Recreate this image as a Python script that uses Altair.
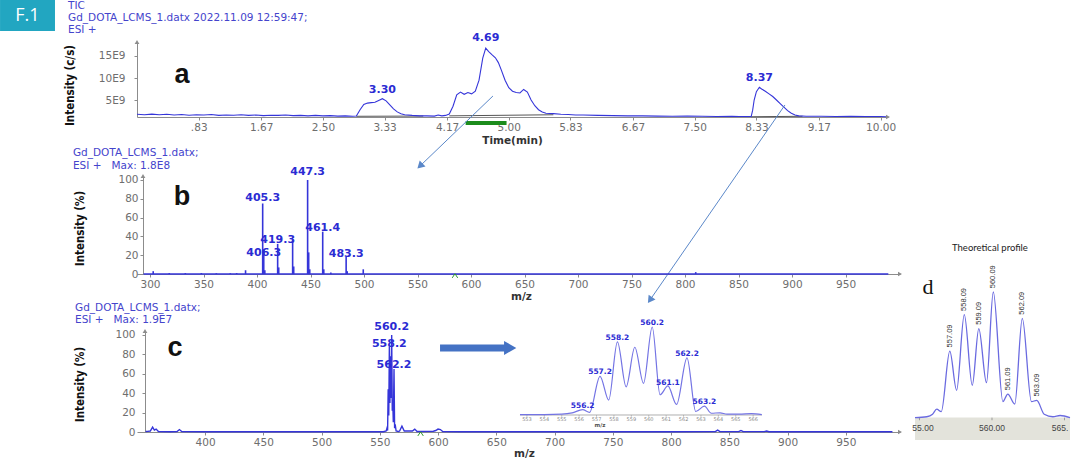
import altair as alt
import pandas as pd

# =================================================================== DATA
# (a) TIC chromatogram - intensity in units of 1E9 c/s
TIC_TIME = [
    0.00, 0.10, 0.20, 0.30, 0.40, 0.50, 0.60, 0.70, 0.80, 0.90,
    1.00, 1.10, 1.20, 1.30, 1.40, 1.50, 1.60, 1.70, 1.80, 1.90,
    2.00, 2.10, 2.20, 2.30, 2.40, 2.50, 2.60, 2.70, 2.80, 2.90,
    2.95, 3.00, 3.05, 3.10, 3.15, 3.20, 3.25, 3.30, 3.35, 3.40,
    3.45, 3.50, 3.55, 3.60, 3.70, 3.80, 3.90, 4.00, 4.05, 4.10,
    4.15, 4.20, 4.25, 4.30, 4.35, 4.40, 4.45, 4.50, 4.55, 4.60,
    4.65, 4.69, 4.73, 4.78, 4.82, 4.86, 4.90, 4.95, 5.00, 5.05,
    5.10, 5.15, 5.20, 5.25, 5.30, 5.35, 5.40, 5.45, 5.50, 5.60,
    5.70, 5.80, 5.90, 6.00, 6.20, 6.40, 6.60, 6.80, 7.00, 7.20,
    7.40, 7.60, 7.80, 8.00, 8.10, 8.20, 8.26, 8.28, 8.30, 8.33,
    8.37, 8.40, 8.45, 8.50, 8.55, 8.60, 8.65, 8.70, 8.75, 8.80,
    8.85, 8.90, 9.00, 9.20, 9.40, 9.60, 9.80, 10.00, 10.08,
]
TIC_INT = [
    1.75, 1.65, 1.80, 1.65, 1.75, 1.60, 1.70, 1.55, 1.65, 1.60,
    1.70, 1.50, 1.60, 1.55, 1.65, 1.50, 1.60, 1.45, 1.55, 1.50,
    1.60, 1.45, 1.50, 1.40, 1.50, 1.40, 1.45, 1.35, 1.40, 1.30,
    1.35, 2.80, 4.00, 4.30, 4.40, 4.50, 4.90, 5.30, 4.80, 3.90,
    3.00, 2.30, 1.90, 1.65, 1.50, 1.40, 1.40, 1.35, 1.60, 1.40,
    1.50, 1.80, 3.60, 6.20, 6.80, 6.30, 6.70, 6.40, 7.00, 9.50,
    14.5, 16.8, 16.0, 15.2, 14.6, 13.5, 11.8, 9.50, 7.80, 7.00,
    6.70, 6.60, 7.40, 6.80, 5.00, 3.70, 2.80, 2.30, 2.00, 1.90,
    1.75, 1.70, 1.60, 1.60, 1.50, 1.45, 1.40, 1.40, 1.35, 1.30,
    1.35, 1.30, 1.25, 1.30, 1.25, 1.25, 1.25, 2.70, 5.00, 6.90,
    7.90, 7.50, 7.00, 6.40, 5.80, 5.00, 4.20, 3.40, 2.60, 2.00,
    1.60, 1.40, 1.30, 1.30, 1.25, 1.30, 1.25, 1.25, 1.20,
]
TIC_BASE_START = [2.95, 4.20, 8.26]
TIC_BASE_END = [3.85, 5.60, 8.95]
TIC_BASE_START_INT = [1.30, 1.40, 1.20]
TIC_BASE_END_INT = [1.35, 1.65, 1.30]
TIC_WINDOW = [4.42, 4.97]
TIC_PEAK_TIME = [3.30, 4.69, 8.37]
TIC_PEAK_TEXT = ["3.30", "4.69", "8.37"]
TIME_TICKS = [0.83, 1.67, 2.50, 3.33, 4.17, 5.00, 5.83, 6.67, 7.50, 8.33, 9.17, 10.00]
TIC_Y_TICKS = [5, 10, 15]

# (b) mass spectrum, % intensity
MSB_MZ = [303.0, 318.0, 333.0, 348.0, 362.0, 375.0, 381.0, 389.3, 405.3, 406.3,
          407.3, 419.3, 420.3, 433.3, 434.3, 447.3, 448.3, 449.3, 461.4, 462.4,
          469.0, 483.3, 484.3, 499.3, 810.0]
MSB_INT = [3, 1, 1, 1, 0.8, 0.8, 1, 4, 75, 26,
           4, 32, 7, 37, 8, 100, 23, 5, 45, 5,
           1.5, 18, 3, 5, 2]
MSB_BASELINE = [294.0, 990.0]
MSB_PEAK_MZ = [405.3, 406.3, 419.3, 447.3, 461.4, 483.3]
MSB_PEAK_TEXT = ["405.3", "406.3", "419.3", "447.3", "461.4", "483.3"]
MSB_TICKS = [300, 350, 400, 450, 500, 550, 600, 650, 700, 750, 800, 850, 900, 950]
PCT_TICKS = [0, 20, 40, 60, 80, 100]

# (c) mass spectrum, % intensity (profile)
MSC_MZ = [349, 351, 353, 355, 356.5, 358, 360, 370, 376, 378,
          380, 400, 450, 500, 540, 553, 555.5, 556.2, 556.7, 557.2,
          557.7, 558.2, 558.7, 559.2, 559.7, 560.2, 560.7, 561.1, 561.6, 562.2,
          562.7, 563.2, 564.0, 566, 567, 569, 571, 578, 580, 582,
          596, 598, 600, 602, 604, 620, 700, 800, 838, 840,
          842, 858, 860, 862, 880, 882, 884, 950, 990]
MSC_INT = [0.5, 0.6, 1, 5, 2, 3, 0.5, 0.3, 0.5, 2.5,
           0.4, 0.3, 0.3, 0.3, 0.3, 0.3, 1, 4, 1.5, 44,
           17, 88, 30, 78, 35, 100, 22, 33, 10, 65,
           4, 8, 1, 0.5, 1, 6, 1, 1, 3, 0.5,
           0.8, 1.5, 3, 2.5, 0.5, 0.3, 0.3, 0.3, 0.4, 2,
           0.4, 0.4, 1.5, 0.4, 0.4, 1, 0.3, 0.3, 0.3]
MSC_PEAK_MZ = [560.2, 558.2, 562.2]
MSC_PEAK_TEXT = ["560.2", "558.2", "562.2"]
MSC_TICKS = [400, 450, 500, 550, 600, 650, 700, 750, 800, 850, 900, 950]

# (c, inset) zoom of the isotope cluster
ZOOM_MZ = [552.6, 554.0, 555.0, 555.6, 556.2, 556.6, 557.2, 557.7, 558.2, 558.7,
           559.2, 559.7, 560.2, 560.65, 561.1, 561.6, 562.2, 562.7, 563.2, 563.6,
           564.1, 564.5, 565.2, 565.9, 566.5]
ZOOM_INT = [0.5, 0.5, 1.0, 2.5, 6, 3, 44, 17, 83, 32,
            77, 36, 100, 23, 33, 12, 65, 4, 10, 2,
            2.5, 1, 1, 1.5, 0.5]
ZOOM_PEAK_MZ = [556.2, 557.2, 558.2, 560.2, 561.1, 562.2, 563.2]
ZOOM_PEAK_TEXT = ["556.2", "557.2", "558.2", "560.2", "561.1", "562.2", "563.2"]
ZOOM_TICKS = [553, 554, 555, 556, 557, 558, 559, 560, 561, 562, 563, 564, 565, 566]

# (d) theoretical isotope profile
THEO_MZ = [554.69, 555.5, 555.9, 556.19, 556.5, 557.09, 557.56, 558.09, 558.64, 559.09,
           559.62, 560.09, 560.75, 561.09, 561.57, 562.09, 562.72, 563.09, 563.6, 564.2,
           564.7, 565.38]
THEO_INT = [0.3, 1.0, 3, 7, 5, 53, 22, 82, 26, 71,
            28, 100, 13, 19, 11, 79, 13, 14, 3, 1.0,
            2, 0.3]
THEO_PEAK_MZ = [557.09, 558.09, 559.09, 560.09, 561.09, 562.09, 563.09]
THEO_PEAK_INT = [53, 82, 71, 100, 19, 79, 14]
THEO_PEAK_TEXT = ["557.09", "558.09", "559.09", "560.09", "561.09", "562.09", "563.09"]
THEO_TICKS = [555, 560, 565]
THEO_TICK_TEXT = ["55.00", "560.00", "565."]   # as printed on the cropped inset image

# text blocks
A_HEADER = ["TIC", "Gd_DOTA_LCMS_1.datx 2022.11.09 12:59:47;", "ESI +"]
B_HEADER = ["Gd_DOTA_LCMS_1.datx;", "ESI +\u00a0\u00a0\u00a0Max: 1.8E8"]
C_HEADER = ["Gd_DOTA_LCMS_1.datx;", "ESI +\u00a0\u00a0\u00a0Max: 1.9E7"]

# ============================================================ STYLE / LAYOUT
FONT = "DejaVu Sans"
NARROW = "Liberation Sans Narrow, DejaVu Sans Condensed, sans-serif"
ARIAL = "Liberation Sans, Arial, sans-serif"
TRACE = "#3535d9"
TITLE_BLUE = "#4444cc"
LABEL_BLUE = "#2b2bd3"
AXIS_GRAY = "#8c8c8c"
LABEL_GRAY = "#6e6e6e"
ARROW_BLUE = "#5b88c9"
HEAD_SIZE = 10.5

A_W, A_H, A_XDOM, A_YDOM = 751, 75, [0, 10.1], [1.14, 18.18]
B_W, B_H, B_XDOM, B_YDOM = 763, 98, [287.85, 1000.9], [0, 104.25]
C_W, C_H, C_XDOM, C_YDOM = 763, 101, [341.6, 996.5], [0, 104.1]
I_XDOM, I_YDOM = [530.59, 574.44], [-19.32, 95.45]
D_W, D_H, D_XDOM, D_YDOM = 155, 398, [554.69, 565.38], [-17.46, 298.41]
D_TICK_LABEL_X = [555.24, 560.0, 564.69]   # label anchors (cropped image)


def lin(dom):
    return alt.Scale(domain=dom, nice=False, zero=False)


def x_axis(values, title, tx, ty, label_expr=None):
    kw = dict(values=values, title=title, titleX=tx, titleY=ty, titleAlign="center",
              titleBaseline="middle", titleFont=FONT, titleFontSize=10.5,
              titleFontWeight="bold", titleColor="#333333", labelFont=FONT,
              labelFontSize=10.5, labelColor=LABEL_GRAY, labelPadding=2,
              labelFlush=False, labelOverlap=False, tickSize=3, tickColor=AXIS_GRAY,
              domainColor=AXIS_GRAY, grid=False)
    if label_expr:
        kw["labelExpr"] = label_expr
    return alt.Axis(**kw)


def y_axis(values, title, tx, ty, offset, pad, label_expr=None):
    kw = dict(values=values, title=title, titleX=tx, titleY=ty, titleAngle=270,
              titleAlign="center", titleBaseline="middle", titleFont=NARROW,
              titleFontSize=11.5, titleFontWeight="bold", titleColor="#111111",
              labelFont=FONT, labelFontSize=10.5, labelColor=LABEL_GRAY,
              labelPadding=pad, labelOverlap=False, tickSize=3, tickColor=AXIS_GRAY,
              domainColor=AXIS_GRAY, grid=False, offset=offset)
    if label_expr:
        kw["labelExpr"] = label_expr
    return alt.Axis(**kw)


def frame(**cols):
    return pd.DataFrame(cols)


X2 = alt.X2("x2:Q")
Y2 = alt.Y2("y2:Q")
ANG = alt.Angle("ang:Q", scale=None)
SHP = alt.Shape("s:N", scale=None)
CARET = "M-1,0.8L0,-0.7L1,0.8"

# ================================================================ PANEL A
XA = alt.X("x:Q", scale=lin(A_XDOM),
           axis=x_axis(TIME_TICKS, "Time(min)", 375, 23,
                       "datum.value < 1 ? '.83' : format(datum.value, '.2f')"))
YA = alt.Y("y:Q", scale=lin(A_YDOM),
           axis=y_axis(TIC_Y_TICKS, "Intensity (c/s)", -67, 43, 0, 9, "datum.value + 'E9'"))

a_layers = [
    alt.Chart(frame(x=TIC_BASE_START, x2=TIC_BASE_END, y=TIC_BASE_START_INT,
                    y2=TIC_BASE_END_INT))
    .mark_rule(color="#555555", strokeWidth=1).encode(x=XA, x2=X2, y=YA, y2=Y2),
    alt.Chart(frame(x=TIC_TIME, y=TIC_INT))
    .mark_line(color=TRACE, strokeWidth=1.1).encode(x=XA, y=YA),
    alt.Chart(frame(x=[TIC_WINDOW[0]], x2=[TIC_WINDOW[1]], y=[-0.22]))
    .mark_rule(color="#1c8c1c", strokeWidth=4).encode(x=XA, x2=X2, y=YA),
    alt.Chart(frame(x=TIC_PEAK_TIME, y=[7.2, 19.0, 10.0], t=TIC_PEAK_TEXT))
    .mark_text(font=FONT, fontSize=11, fontWeight="bold", color=LABEL_BLUE, baseline="middle")
    .encode(x=XA, y=YA, text="t:N"),
    alt.Chart(frame(x=[-0.928] * 3, y=[26.36, 23.63, 20.91], t=A_HEADER))
    .mark_text(align="left", baseline="middle", font=FONT, fontSize=HEAD_SIZE, color=TITLE_BLUE)
    .encode(x=XA, y=YA, text="t:N"),
    alt.Chart(frame(x=[0.605], y=[10.68], t=["a"]))
    .mark_text(font=ARIAL, fontSize=27, fontWeight="bold", color="#111111", baseline="middle")
    .encode(x=XA, y=YA, text="t:N"),
    # connector arrows down to panels b and c
    alt.Chart(frame(x=[4.787, 8.714], y=[5.91, 3.87], x2=[3.806, 6.899], y2=[-9.99, -40.44]))
    .mark_rule(color=ARROW_BLUE, strokeWidth=1).encode(x=XA, x2=X2, y=YA, y2=Y2),
    alt.Chart(frame(x=[3.806, 6.899], y=[-9.99, -40.44], ang=[226, 215]))
    .mark_point(shape="triangle-up", filled=True, size=70, color=ARROW_BLUE, opacity=1)
    .encode(x=XA, y=YA, angle=ANG),
    # figure badge
    alt.Chart(frame(x=[-1.842], x2=[-1.103], y=[27.72], y2=[20.68]))
    .mark_rect(color="#22a6c1").encode(x=XA, x2=X2, y=YA, y2=Y2),
    alt.Chart(frame(x=[-1.473], y=[24.09], t=["F.1"]))
    .mark_text(font="Open Sans", fontSize=18, color="white", baseline="middle")
    .encode(x=XA, y=YA, text="t:N"),
    # axis arrow heads
    alt.Chart(frame(x=[A_XDOM[0], A_XDOM[1]], y=[A_YDOM[1], A_YDOM[0]],
                    s=["triangle-up", "triangle-right"]))
    .mark_point(filled=True, size=22, color=AXIS_GRAY, opacity=1).encode(x=XA, y=YA, shape=SHP),
]
panel_a = alt.layer(*a_layers).properties(width=A_W, height=A_H)

# ================================================================ PANEL B
XB = alt.X("x:Q", scale=lin(B_XDOM), axis=x_axis(MSB_TICKS, "m/z", 384, 22))
YB = alt.Y("y:Q", scale=lin(B_YDOM), axis=y_axis(PCT_TICKS, "Intensity (%)", -63, 52, -6, 2))
B_AXIS_X = B_XDOM[0] + 6 * (B_XDOM[1] - B_XDOM[0]) / B_W

b_layers = [
    alt.Chart(frame(x=[MSB_BASELINE[0]], x2=[MSB_BASELINE[1]])).transform_calculate(y="0")
    .mark_rule(color=TRACE, strokeWidth=1.6).encode(x=XB, x2=X2, y=YB),
    alt.Chart(frame(x=MSB_MZ, y=MSB_INT)).transform_calculate(y0="0")
    .mark_rule(color=TRACE, strokeWidth=1.6).encode(x=XB, y=YB, y2=alt.Y2("y0:Q")),
    alt.Chart(frame(x=MSB_PEAK_MZ, y=[80.85, 22.3, 36.2, 108.5, 48.9, 21.3], t=MSB_PEAK_TEXT))
    .mark_text(font=FONT, fontSize=11, fontWeight="bold", color=LABEL_BLUE, baseline="middle")
    .encode(x=XB, y=YB, text="t:N"),
    alt.Chart(frame(x=[228.0] * 2, y=[128.7, 115.4], t=B_HEADER))
    .mark_text(align="left", baseline="middle", font=FONT, fontSize=HEAD_SIZE, color=TITLE_BLUE)
    .encode(x=XB, y=YB, text="t:N"),
    alt.Chart(frame(x=[329.9], y=[81.9], t=["b"]))
    .mark_text(font=ARIAL, fontSize=27, fontWeight="bold", color="#111111", baseline="middle")
    .encode(x=XB, y=YB, text="t:N"),
    alt.Chart(frame(x=[585.0], y=[-1.8]))
    .mark_point(shape=CARET, filled=False, size=30, color="#2e9a2e", strokeWidth=1, opacity=1)
    .encode(x=XB, y=YB),
    alt.Chart(frame(x=[B_AXIS_X, B_XDOM[1]], y=[B_YDOM[1], B_YDOM[0]],
                    s=["triangle-up", "triangle-right"]))
    .mark_point(filled=True, size=22, color=AXIS_GRAY, opacity=1).encode(x=XB, y=YB, shape=SHP),
]
panel_b = alt.layer(*b_layers).properties(width=B_W, height=B_H)

# ================================================================ PANEL C
XC = alt.X("x:Q", scale=lin(C_XDOM), axis=x_axis(MSC_TICKS, "m/z", 387, 21))
YC = alt.Y("y:Q", scale=lin(C_YDOM), axis=y_axis(PCT_TICKS, "Intensity (%)", -65, 53, -8, 7))
C_AXIS_X = C_XDOM[0] + 8 * (C_XDOM[1] - C_XDOM[0]) / C_W

c_main = [
    alt.Chart(frame(x=MSC_MZ, y=MSC_INT))
    .mark_line(color=TRACE, strokeWidth=1.4).encode(x=XC, y=YC),
    alt.Chart(frame(x=MSC_PEAK_MZ, y=[108.2, 90.7, 69.1], t=MSC_PEAK_TEXT))
    .mark_text(font=FONT, fontSize=11, fontWeight="bold", color=LABEL_BLUE, baseline="middle")
    .encode(x=XC, y=YC, text="t:N"),
    alt.Chart(frame(x=[288.4] * 2, y=[128.3, 115.9], t=C_HEADER))
    .mark_text(align="left", baseline="middle", font=FONT, fontSize=HEAD_SIZE, color=TITLE_BLUE)
    .encode(x=XC, y=YC, text="t:N"),
    alt.Chart(frame(x=[374.2], y=[86.6], t=["c"]))
    .mark_text(font=ARIAL, fontSize=27, fontWeight="bold", color="#111111", baseline="middle")
    .encode(x=XC, y=YC, text="t:N"),
    alt.Chart(frame(x=[601.7], x2=[657.5], y=[86.6]))
    .mark_rule(color="#4472c4", strokeWidth=7, strokeCap="butt").encode(x=XC, x2=X2, y=YC),
    alt.Chart(frame(x=[661.9], y=[86.6]))
    .mark_point(shape="triangle-right", filled=True, size=200, color="#4472c4", opacity=1)
    .encode(x=XC, y=YC),
    alt.Chart(frame(x=[585.0], y=[-1.8]))
    .mark_point(shape=CARET, filled=False, size=30, color="#2e9a2e", strokeWidth=1, opacity=1)
    .encode(x=XC, y=YC),
    alt.Chart(frame(x=[C_AXIS_X, C_XDOM[1]], y=[C_YDOM[1], C_YDOM[0]],
                    s=["triangle-up", "triangle-right"]))
    .mark_point(filled=True, size=22, color=AXIS_GRAY, opacity=1).encode(x=XC, y=YC, shape=SHP),
]

XI = alt.X("x:Q", scale=lin(I_XDOM), axis=None)
YI = alt.Y("y:Q", scale=lin(I_YDOM), axis=None)
c_inset = [
    alt.Chart(frame(x=[552.6], x2=[566.5])).transform_calculate(y="0")
    .mark_rule(color="#9a9a9a", strokeWidth=0.8).encode(x=XI, x2=X2, y=YI),
    alt.Chart(frame(x=ZOOM_TICKS)).transform_calculate(y="0", y2="-2")
    .mark_rule(color="#9a9a9a", strokeWidth=0.6).encode(x=XI, y=YI, y2=Y2),
    alt.Chart(frame(x=ZOOM_TICKS, t=[str(v) for v in ZOOM_TICKS])).transform_calculate(y="-4.8")
    .mark_text(font=FONT, fontSize=5, color="#888888", baseline="middle")
    .encode(x=XI, y=YI, text="t:N"),
    alt.Chart(frame(x=[557.2], y=[-11.4], t=["m/z"]))
    .mark_text(font=FONT, fontSize=5.5, fontWeight="bold", color="#555555", baseline="middle")
    .encode(x=XI, y=YI, text="t:N"),
    alt.Chart(frame(x=ZOOM_MZ, y=ZOOM_INT))
    .mark_line(color="#7474e4", strokeWidth=1.2, interpolate="monotone").encode(x=XI, y=YI),
    alt.Chart(frame(x=ZOOM_PEAK_MZ, y=[10, 49, 88, 105, 36, 69, 15], t=ZOOM_PEAK_TEXT))
    .mark_text(font=FONT, fontSize=7.5, fontWeight="bold", color=LABEL_BLUE, baseline="middle")
    .encode(x=XI, y=YI, text="t:N"),
]
panel_c = (
    alt.layer(alt.layer(*c_main), alt.layer(*c_inset))
    .resolve_scale(x="independent", y="independent")
    .properties(width=C_W, height=C_H)
)

# ================================================================ PANEL D
XD = alt.X("x:Q", scale=lin(D_XDOM), axis=None)
YD = alt.Y("y:Q", scale=lin(D_YDOM), axis=None)
d_layers = [
    alt.Chart(frame(x=[D_XDOM[0]], x2=[D_XDOM[1]], y=[D_YDOM[0]], y2=[0.3]))
    .mark_rect(color="#e3e3db").encode(x=XD, x2=X2, y=YD, y2=Y2),
    alt.Chart(frame(x=THEO_TICKS)).transform_calculate(y="0.3", y2="-1.8")
    .mark_rule(color="#8a8a8a", strokeWidth=0.8).encode(x=XD, y=YD, y2=Y2),
    alt.Chart(frame(x=D_TICK_LABEL_X, t=THEO_TICK_TEXT)).transform_calculate(y="-7.94")
    .mark_text(font=ARIAL, fontSize=8.5, color="#444444", baseline="middle")
    .encode(x=XD, y=YD, text="t:N"),
    alt.Chart(frame(x=THEO_MZ, y=THEO_INT))
    .mark_line(color="#6a6ae0", strokeWidth=1.3, interpolate="monotone").encode(x=XD, y=YD),
    alt.Chart(frame(x=THEO_PEAK_MZ, y=[v + 3 for v in THEO_PEAK_INT], t=THEO_PEAK_TEXT))
    .mark_text(angle=270, align="left", baseline="middle", font=ARIAL, fontSize=7.5,
               color="#333333")
    .encode(x=XD, y=YD, text="t:N"),
    alt.Chart(frame(x=[555.59], y=[104.0], t=["d"]))
    .mark_text(font="Liberation Serif", fontSize=22, color="#111111", baseline="middle")
    .encode(x=XD, y=YD, text="t:N"),
    alt.Chart(frame(x=[559.86], y=[134.9], t=["Theoretical profile"]))
    .mark_text(font="Lato", fontSize=9.5, color="#222222", baseline="middle")
    .encode(x=XD, y=YD, text="t:N"),
]
panel_d = alt.layer(*d_layers).properties(width=D_W, height=D_H)

# ================================================================ LAYOUT
column = alt.vconcat(
    panel_a,
    alt.vconcat(panel_b, panel_c, spacing=57, bounds="flush"),
    spacing=59, bounds="flush",
)
chart = (
    alt.hconcat(column, panel_d, spacing=9)
    .properties(padding=0, background="white")
    .configure_view(strokeWidth=0)
)
chart.save("out.html", embed_options={"renderer": "svg", "actions": False})
